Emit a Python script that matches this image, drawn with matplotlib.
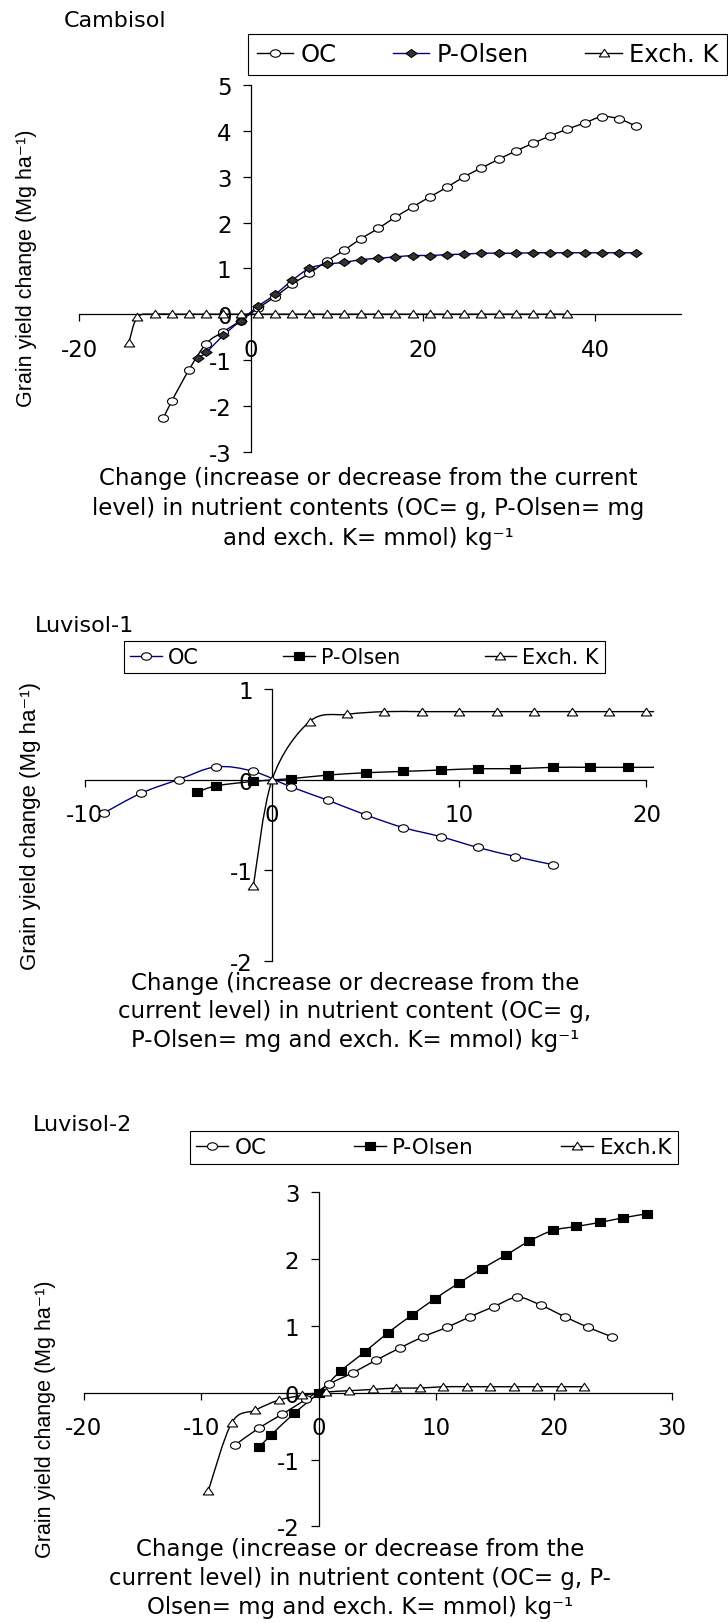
import numpy as np
import matplotlib
matplotlib.use("Agg")
import matplotlib.pyplot as plt
from matplotlib.path import Path
from matplotlib.patches import PathPatch
from matplotlib.lines import Line2D

plt.rcParams["font.family"] = ["DejaVu Sans"]
plt.rcParams["axes.unicode_minus"] = False

# ---- Cambisol ----
camb_oc_x = [-10.2, -9.2, -7.2, -5.2, -3.2, -1.2, 0.8, 2.8, 4.8, 6.8, 8.8, 10.8, 12.8, 14.8,
             16.8, 18.8, 20.8, 22.8, 24.8, 26.8, 28.8, 30.8, 32.8, 34.8, 36.8, 38.8, 40.8, 42.8, 44.8]
camb_oc_y = [-2.27, -1.89, -1.21, -0.64, -0.38, -0.14, 0.13, 0.38, 0.66, 0.89, 1.16, 1.39, 1.65, 1.87,
             2.12, 2.34, 2.56, 2.77, 3.00, 3.19, 3.38, 3.56, 3.73, 3.89, 4.04, 4.17, 4.31, 4.26, 4.10]
camb_p_x = [-6.2, -5.2, -3.2, -1.2, 0.8, 2.8, 4.8, 6.8, 8.8, 10.8, 12.8, 14.8, 16.8, 18.8,
            20.8, 22.8, 24.8, 26.8, 28.8, 30.8, 32.8, 34.8, 36.8, 38.8, 40.8, 42.8, 44.8]
camb_p_y = [-0.96, -0.83, -0.46, -0.14, 0.17, 0.43, 0.74, 1.00, 1.09, 1.13, 1.19, 1.22, 1.25, 1.28,
            1.28, 1.30, 1.31, 1.33, 1.33, 1.33, 1.34, 1.34, 1.34, 1.34, 1.34, 1.34, 1.34]
camb_k_x = [-14.2, -13.2, -11.2, -9.2, -7.2, -5.2, -3.2, -1.2, 0.8, 2.8, 4.8, 6.8, 8.8, 10.8,
            12.8, 14.8, 16.8, 18.8, 20.8, 22.8, 24.8, 26.8, 28.8, 30.8, 32.8, 34.8, 36.8]
camb_k_y = [-0.62, -0.06, 0.0, 0.0, 0.0, 0.0, 0.0, 0.0, 0.0, 0.0, 0.0, 0.0, 0.0, 0.0,
            0.0, 0.0, 0.0, 0.0, 0.0, 0.0, 0.0, 0.0, 0.0, 0.0, 0.0, 0.0, 0.0]

# ---- Luvisol-1 ----
l1_oc_x = [-9, -7, -5, -3, -1, 1, 3, 5, 7, 9, 11, 13, 15]
l1_oc_y = [-0.37, -0.15, 0.00, 0.14, 0.09, -0.08, -0.23, -0.39, -0.53, -0.63, -0.75, -0.85, -0.94]
l1_p_x = [-4, -3, -1, 1, 3, 5, 7, 9, 11, 13, 15, 17, 19, 21]
l1_p_y = [-0.14, -0.07, -0.02, 0.01, 0.05, 0.075, 0.09, 0.105, 0.12, 0.12, 0.135, 0.135, 0.135, 0.135]
l1_k_x = [-1, 0, 2, 4, 6, 8, 10, 12, 14, 16, 18, 20, 22]
l1_k_y = [-1.17, 0.00, 0.64, 0.72, 0.75, 0.75, 0.75, 0.75, 0.75, 0.75, 0.75, 0.75, 0.75]

# ---- Luvisol-2 ----
l2_oc_x = [-7.1, -5.1, -3.1, -1.1, 0.9, 2.9, 4.9, 6.9, 8.9, 10.9, 12.9, 14.9, 16.9, 18.9, 20.9, 22.9, 24.9]
l2_oc_y = [-0.78, -0.53, -0.32, -0.10, 0.13, 0.30, 0.49, 0.67, 0.84, 0.98, 1.14, 1.29, 1.43, 1.31, 1.14, 0.98, 0.84]
l2_p_x = [-5.1, -4.1, -2.1, 0, 1.9, 3.9, 5.9, 7.9, 9.9, 11.9, 13.9, 15.9, 17.9, 19.9, 21.9, 23.9, 25.9, 27.9]
l2_p_y = [-0.82, -0.64, -0.31, 0.00, 0.33, 0.61, 0.90, 1.16, 1.41, 1.64, 1.86, 2.06, 2.27, 2.43, 2.49, 2.55, 2.62, 2.68]
l2_k_x = [-9.4, -7.4, -5.4, -3.4, -1.4, 0.6, 2.6, 4.6, 6.6, 8.6, 10.6, 12.6, 14.6, 16.6, 18.6, 20.6, 22.6]
l2_k_y = [-1.47, -0.45, -0.26, -0.11, -0.04, 0.01, 0.03, 0.05, 0.07, 0.07, 0.09, 0.09, 0.09, 0.09, 0.09, 0.09, 0.09]

W, H = 728, 1624
NAVY = "#000080"
TICK_FS = 16.5
XLAB_FS = 16.5

# wide marker shapes
circle_m = Path(Path.unit_circle().vertices * [1.35, 1.0], Path.unit_circle().codes)
tri_m = Path([(-0.68, -0.45), (0.68, -0.45), (0.0, 0.55), (-0.68, -0.45)],
             [Path.MOVETO, Path.LINETO, Path.LINETO, Path.CLOSEPOLY])
diam_m = Path([(-0.7, 0), (0, 0.5), (0.7, 0), (0, -0.5), (-0.7, 0)],
              [Path.MOVETO, Path.LINETO, Path.LINETO, Path.LINETO, Path.CLOSEPOLY])
sq_m = Path([(-0.68, -0.5), (0.68, -0.5), (0.68, 0.5), (-0.68, 0.5), (-0.68, -0.5)],
            [Path.MOVETO, Path.LINETO, Path.LINETO, Path.LINETO, Path.CLOSEPOLY])


def smooth_path(xs, ys):
    # bezier segments through every point (smoothed line)
    pts = np.column_stack([xs, ys]).astype(float)
    n = len(pts)
    verts = [pts[0]]
    codes = [Path.MOVETO]
    for i in range(n - 1):
        p0 = pts[i - 1] if i > 0 else pts[i]
        p1, p2 = pts[i], pts[i + 1]
        p3 = pts[i + 2] if i + 2 < n else pts[i + 1]
        verts += [p1 + (p2 - p0) / 6, p2 - (p3 - p1) / 6, p2]
        codes += [Path.CURVE4] * 3
    return Path(verts, codes)


def series(ax, xs, ys, color, marker, ms, fill):
    ax.add_patch(PathPatch(smooth_path(xs, ys), facecolor="none", edgecolor=color, lw=1.0, zorder=2))
    ax.plot(xs, ys, linestyle="none", marker=marker, ms=ms, mfc=fill, mec="black", mew=0.8, zorder=3)
    return Line2D([], [], color=color, lw=1.0, marker=marker, ms=ms, mfc=fill, mec="black", mew=0.8)


def style_axes(ax, xlim, ylim, xticks, yticks, xbound=None):
    ax.set_xlim(xlim)
    ax.set_ylim(ylim)
    ax.patch.set_visible(False)
    for s in ["top", "right"]:
        ax.spines[s].set_visible(False)
    ax.spines["left"].set_position(("data", 0))
    ax.spines["bottom"].set_position(("data", 0))
    for s in ["left", "bottom"]:
        ax.spines[s].set_linewidth(0.9)
    if xbound:
        ax.spines["bottom"].set_bounds(*xbound)
    ax.set_xticks(xticks)
    ax.set_yticks(yticks)
    ax.tick_params(axis="x", direction="out", length=5, width=0.9, pad=12, labelsize=TICK_FS)
    ax.tick_params(axis="y", direction="out", length=6, width=0.9, pad=8, labelsize=TICK_FS)


def px_axes(x0, x1, y0, y1):
    # pixel box -> figure fraction
    return [x0 / W, 1 - y1 / H, (x1 - x0) / W, (y1 - y0) / H]


def ftext(x, y, s, **kw):
    fig.text(x / W, 1 - y / H, s, **kw)


def legend(handles, labels, x0, x1, y0, y1, size, bpad):
    leg = fig.legend(handles, labels, loc="center", bbox_to_anchor=(x0 / W, 1 - y1 / H, (x1 - x0) / W, (y1 - y0) / H),
                     bbox_transform=fig.transFigure, mode="expand", ncol=3, frameon=True, fancybox=False,
                     edgecolor="black", framealpha=1, borderaxespad=0, borderpad=bpad, handlelength=1.5,
                     handletextpad=0.3, prop={"size": size})
    leg.get_frame().set_linewidth(0.8)


ylab = "Grain yield change (Mg ha⁻¹)"
yfam = ["Liberation Sans", "DejaVu Sans"]

fig = plt.figure(figsize=(W / 100, H / 100), dpi=100)

# Cambisol
ax1 = fig.add_axes(px_axes(79, 681, 86, 452.7))
h1 = series(ax1, camb_oc_x, camb_oc_y, "black", circle_m, 7.2, "white")
h2 = series(ax1, camb_p_x, camb_p_y, NAVY, diam_m, 8.0, "#333333")
h3 = series(ax1, camb_k_x, camb_k_y, "black", tri_m, 7.5, "white")
style_axes(ax1, (-20, 50), (-3, 5), [-20, 0, 20, 40], [-3, -2, -1, 0, 1, 2, 3, 4, 5])
legend([h1, h2, h3], ["OC", "P-Olsen", "Exch. K"], 248, 727, 33, 78, 17.5, 0.35)
ftext(64, 21, "Cambisol", ha="left", va="center", fontsize=16)
ftext(27, 268, ylab, rotation=90, ha="center", va="center", fontsize=15.5, family=yfam)
ftext(368, 479, "Change (increase or decrease from the current", ha="center", va="center", fontsize=XLAB_FS)
ftext(368, 509, "level) in nutrient contents (OC= g, P-Olsen= mg", ha="center", va="center", fontsize=XLAB_FS)
ftext(368, 539, "and exch. K= mmol) kg⁻¹", ha="center", va="center", fontsize=XLAB_FS)

# Luvisol-1
ax2 = fig.add_axes(px_axes(85, 653.9, 690, 961.7))
h1 = series(ax2, l1_oc_x, l1_oc_y, NAVY, circle_m, 7.2, "white")
h2 = series(ax2, l1_p_x, l1_p_y, "black", sq_m, 7.5, "black")
h3 = series(ax2, l1_k_x, l1_k_y, "black", tri_m, 7.5, "white")
style_axes(ax2, (-10, 20.4), (-2, 1), [-10, 0, 10, 20], [-2, -1, 0, 1], xbound=(-10, 20))
legend([h1, h2, h3], ["OC", "P-Olsen", "Exch. K"], 124, 605, 640.7, 675.7, 15, 0.3)
ftext(35, 626, "Luvisol-1", ha="left", va="center", fontsize=16)
ftext(31, 826, ylab, rotation=90, ha="center", va="center", fontsize=16, family=yfam)
ftext(355, 984, "Change (increase or decrease from the", ha="center", va="center", fontsize=XLAB_FS)
ftext(355, 1012, "current level) in nutrient content (OC= g,", ha="center", va="center", fontsize=XLAB_FS)
ftext(355, 1040, "P-Olsen= mg and exch. K= mmol) kg⁻¹", ha="center", va="center", fontsize=XLAB_FS)

# Luvisol-2
ax3 = fig.add_axes(px_axes(83.6, 671.5, 1193.4, 1527.3))
h1 = series(ax3, l2_oc_x, l2_oc_y, "black", circle_m, 7.2, "white")
h2 = series(ax3, l2_p_x, l2_p_y, "black", sq_m, 7.2, "black")
h3 = series(ax3, l2_k_x, l2_k_y, "black", tri_m, 7.5, "white")
style_axes(ax3, (-20, 30), (-2, 3), [-20, -10, 0, 10, 20, 30], [-2, -1, 0, 1, 2, 3])
legend([h1, h2, h3], ["OC", "P-Olsen", "Exch.K"], 189.6, 678.4, 1130, 1167, 15.5, 0.3)
ftext(33, 1125, "Luvisol-2", ha="left", va="center", fontsize=16)
ftext(46, 1419, ylab, rotation=90, ha="center", va="center", fontsize=15.5, family=yfam)
ftext(360, 1550, "Change (increase or decrease from the", ha="center", va="center", fontsize=XLAB_FS)
ftext(360, 1579, "current level) in nutrient content (OC= g, P-", ha="center", va="center", fontsize=XLAB_FS)
ftext(360, 1608, "Olsen= mg and exch. K= mmol) kg⁻¹", ha="center", va="center", fontsize=XLAB_FS)

fig.savefig("out.png", dpi=100)
